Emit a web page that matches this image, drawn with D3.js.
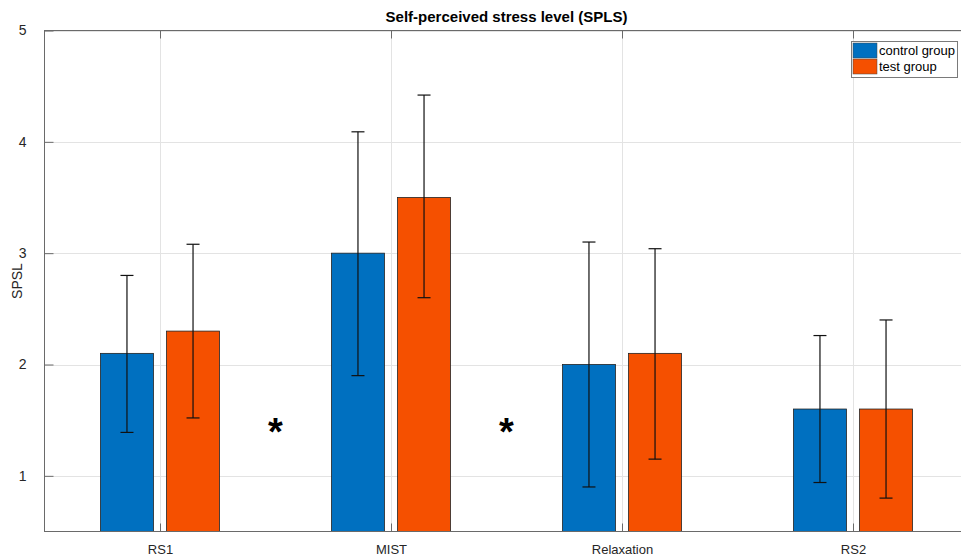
<!DOCTYPE html>
<html>
<head>
<meta charset="utf-8">
<script src="https://cdn.jsdelivr.net/npm/d3@7"></script>
<style>
  html, body { margin: 0; padding: 0; background: #fff; }
  svg { display: block; font-family: "Liberation Sans", Arial, sans-serif; }
</style>
</head>
<body>
<svg id="chart" width="961" height="557"></svg>
<script>
const categories = ["RS1", "MIST", "Relaxation", "RS2"];
const seriesNames = ["control group", "test group"];
const controlMean = [2.1, 3.0, 2.0, 1.6];
const controlLow  = [1.39, 1.90, 0.90, 0.94];
const controlHigh = [2.80, 4.09, 3.10, 2.26];
const testMean = [2.3, 3.5, 2.1, 1.6];
const testLow  = [1.52, 2.60, 1.15, 0.80];
const testHigh = [3.08, 4.42, 3.04, 2.40];
const yTicks = [1, 2, 3, 4, 5];
const sigPositions = [1.5, 2.5];
const sigValue = 1.46;
const titleText = "Self-perceived stress level (SPLS)";
const yLabel = "SPSL";

(function () {
const colors = ["#0070C0", "#F55000"];
const svg = d3.select("#chart");
const pLeft = 44.5, pRight = 968.5, pTop = 30.5, pBottom = 531.5;

const x = d3.scaleLinear().domain([0.5, 4.5]).range([pLeft, pRight]);
const y = d3.scaleLinear().domain([0.5, 5]).range([pBottom, pTop]);

const series = [
  {name: seriesNames[0], mean: controlMean, lo: controlLow, hi: controlHigh, off: -0.143, color: colors[0]},
  {name: seriesNames[1], mean: testMean, lo: testLow, hi: testHigh, off: 0.143, color: colors[1]}
];
const barW = 0.229;

svg.append("defs").append("clipPath").attr("id", "clip")
  .append("rect").attr("x", pLeft).attr("y", pTop).attr("width", pRight - pLeft).attr("height", pBottom - pTop);

// grid
const grid = svg.append("g").attr("stroke", "#e3e3e3").attr("stroke-width", 1);
yTicks.forEach(t => grid.append("line").attr("x1", pLeft).attr("x2", pRight).attr("y1", Math.round(y(t)) + 0.5).attr("y2", Math.round(y(t)) + 0.5));
categories.forEach((c, i) => grid.append("line").attr("x1", Math.round(x(i + 1)) + 0.5).attr("x2", Math.round(x(i + 1)) + 0.5).attr("y1", pTop).attr("y2", pBottom));

// bars
const plot = svg.append("g").attr("clip-path", "url(#clip)");
series.forEach(s => {
  plot.selectAll(null).data(s.mean).enter().append("rect")
    .attr("x", (d, i) => x(i + 1 + s.off - barW / 2))
    .attr("width", x(barW) - x(0))
    .attr("y", d => y(d))
    .attr("height", d => y(0) - y(d))
    .attr("fill", s.color)
    .attr("stroke", "#222")
    .attr("stroke-width", 0.8);
});

// error bars
series.forEach(s => {
  const g = svg.append("g").attr("stroke", "#111").attr("stroke-width", 1.2);
  s.mean.forEach((m, i) => {
    const cx = x(i + 1 + s.off);
    g.append("line").attr("x1", cx).attr("x2", cx).attr("y1", y(s.lo[i])).attr("y2", y(s.hi[i]));
    g.append("line").attr("x1", cx - 6.5).attr("x2", cx + 6.5).attr("y1", y(s.hi[i])).attr("y2", y(s.hi[i]));
    g.append("line").attr("x1", cx - 6.5).attr("x2", cx + 6.5).attr("y1", y(s.lo[i])).attr("y2", y(s.lo[i]));
  });
});

// significance asterisks
svg.selectAll(null).data(sigPositions).enter().append("text")
  .attr("x", d => x(d))
  .attr("y", y(sigValue) + 20)
  .attr("text-anchor", "middle")
  .attr("font-size", 38).attr("font-weight", "bold").attr("fill", "#000")
  .text("*");

// axes box
const axisColor = "#6a6a6a";
svg.append("rect").attr("x", pLeft).attr("y", pTop).attr("width", pRight - pLeft).attr("height", pBottom - pTop)
  .attr("fill", "none").attr("stroke", axisColor).attr("stroke-width", 1);

// y ticks
const yAxis = d3.axisLeft(y).tickValues(yTicks).tickSize(-9).tickPadding(18).tickFormat(d3.format("d"));
const ya = svg.append("g").attr("transform", `translate(${pLeft},0)`).call(yAxis);
ya.select(".domain").remove();
ya.selectAll(".tick line").attr("stroke", axisColor);
ya.selectAll(".tick text").attr("font-size", 14).attr("fill", "#262626");

// x ticks
const xAxis = d3.axisBottom(x).tickValues([1, 2, 3, 4]).tickSize(-8).tickPadding(13).tickFormat(d => categories[d - 1]);
const xa = svg.append("g").attr("transform", `translate(0,${pBottom})`).call(xAxis);
xa.select(".domain").remove();
xa.selectAll(".tick line").attr("stroke", axisColor);
xa.selectAll(".tick text").attr("font-size", 13).attr("fill", "#262626");

// top ticks
const xTop = d3.axisTop(x).tickValues([1, 2, 3, 4]).tickSize(-8).tickFormat("");
const xt = svg.append("g").attr("transform", `translate(0,${pTop})`).call(xTop);
xt.select(".domain").remove();
xt.selectAll(".tick line").attr("stroke", axisColor);

// title
svg.append("text").attr("x", (pLeft + pRight) / 2).attr("y", 22).attr("text-anchor", "middle")
  .attr("font-size", 15).attr("font-weight", "bold").attr("fill", "#000").text(titleText);

// y label
svg.append("text").attr("transform", `translate(22,${(pTop + pBottom) / 2}) rotate(-90)`)
  .attr("text-anchor", "middle").attr("font-size", 14).attr("fill", "#262626").text(yLabel);

// legend
const lg = svg.append("g");
lg.append("rect").attr("x", 851.5).attr("y", 41.5).attr("width", 106).attr("height", 36)
  .attr("fill", "#fff").attr("stroke", "#7a7a7a").attr("stroke-width", 1);
series.forEach((s, i) => {
  lg.append("rect").attr("x", 853).attr("y", 43 + i * 16).attr("width", 24).attr("height", 15)
    .attr("fill", s.color).attr("stroke", "#444").attr("stroke-width", 0.5);
  lg.append("text").attr("x", 879).attr("y", 55 + i * 16).attr("font-size", 13).attr("fill", "#000").text(s.name);
});
})();
</script>
</body>
</html>
